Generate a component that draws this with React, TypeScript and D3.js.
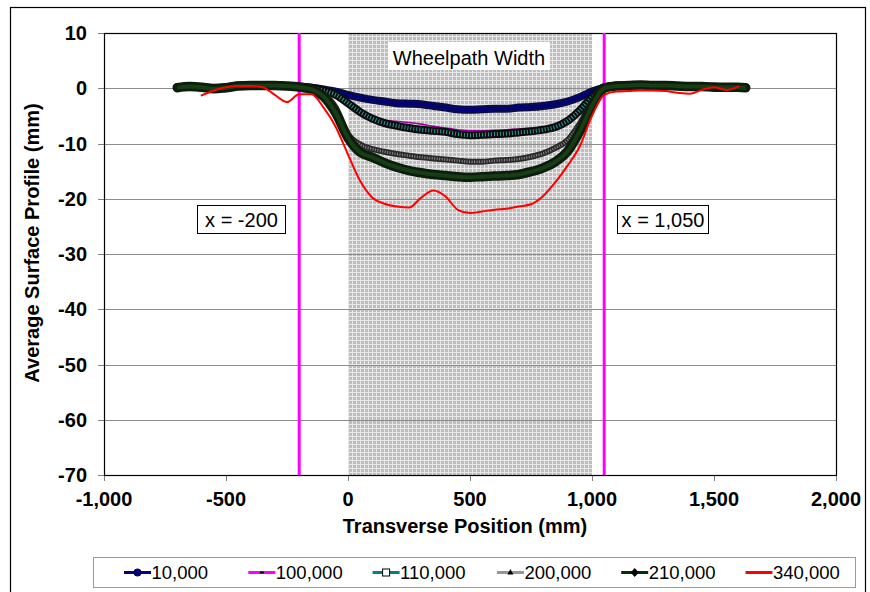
import React from 'react';
import * as d3 from 'd3';

// transverse positions (mm) shared by all series
const positions = [
  -700, -650, -600, -550, -500, -450, -400, -350, -300, -250,
  -200, -150, -100, -50, 0, 50, 100, 150, 200, 250,
  300, 350, 400, 450, 500, 550, 600, 650, 700, 750,
  800, 850, 900, 950, 1000, 1050, 1100, 1150, 1200, 1250,
  1300, 1350, 1400, 1450, 1500, 1550, 1600, 1630,
];

const pass10000 = [
  0.2, 0.3, 0.2, 0.0, 0.1, 0.4, 0.5, 0.4, 0.5, 0.4,
  0.3, 0.1, -0.2, -0.6, -1.2, -1.7, -2.1, -2.4, -2.7, -2.8,
  -2.9, -3.2, -3.5, -3.8, -3.9, -3.8, -3.7, -3.7, -3.5, -3.4,
  -3.2, -2.9, -2.4, -1.6, -0.6, 0.1, 0.4, 0.5, 0.6, 0.5,
  0.5, 0.4, 0.3, 0.3, 0.2, 0.2, 0.2, 0.1,
];
const pass100000 = [
  0.1, 0.3, 0.2, 0.1, 0.2, 0.5, 0.5, 0.4, 0.5, 0.4,
  0.3, 0.1, -0.4, -1.2, -2.6, -4.1, -5.2, -5.8, -6.0, -6.2,
  -6.5, -6.9, -7.2, -7.5, -7.7, -7.7, -7.6, -7.5, -7.4, -7.3,
  -7.1, -6.7, -5.7, -3.9, -1.6, 0.2, 0.5, 0.6, 0.6, 0.5,
  0.5, 0.4, 0.3, 0.3, 0.3, 0.2, 0.2, 0.1,
];
const pass110000 = [
  0.1, 0.3, 0.2, 0.1, 0.2, 0.5, 0.5, 0.4, 0.5, 0.4,
  0.3, 0.1, -0.4, -1.2, -2.7, -4.3, -5.5, -6.3, -6.8, -7.2,
  -7.5, -7.7, -7.9, -8.3, -8.5, -8.4, -8.3, -8.2, -8.0, -7.8,
  -7.5, -7.0, -5.9, -4.0, -1.6, 0.2, 0.5, 0.6, 0.6, 0.5,
  0.5, 0.4, 0.3, 0.3, 0.3, 0.2, 0.2, 0.1,
];
const pass200000 = [
  0.2, 0.3, 0.1, 0.0, 0.1, 0.4, 0.5, 0.4, 0.5, 0.4,
  0.2, -0.1, -1.0, -3.5, -8.3, -10.2, -11.0, -11.5, -11.9, -12.2,
  -12.5, -12.7, -12.9, -13.1, -13.3, -13.3, -13.1, -13.0, -12.8, -12.4,
  -11.8, -10.8, -9.4, -6.4, -2.6, -0.1, 0.4, 0.5, 0.6, 0.5,
  0.5, 0.4, 0.4, 0.3, 0.2, 0.2, 0.2, 0.1,
];
const pass210000 = [
  0.1, 0.3, 0.2, -0.1, 0.1, 0.4, 0.5, 0.5, 0.5, 0.4,
  0.2, -0.2, -1.5, -4.5, -9.0, -11.6, -12.5, -13.5, -14.3, -14.9,
  -15.3, -15.6, -15.8, -16.0, -16.1, -16.0, -15.9, -15.8, -15.6, -15.1,
  -14.4, -13.3, -11.4, -7.8, -3.2, 0.0, 0.4, 0.5, 0.6, 0.5,
  0.5, 0.4, 0.3, 0.3, 0.2, 0.2, 0.2, 0.1,
];
const pass340000 = [
  null, null, -1.3, -0.4, 0.2, 0.4, 0.4, 0.2, -1.2, -2.5,
  -1.1, -1.1, -3.5, -7.0, -12.0, -16.8, -19.8, -20.9, -21.4, -21.6,
  -19.8, -18.5, -19.6, -22.0, -22.6, -22.3, -22.0, -21.8, -21.4, -21.0,
  -19.5, -17.0, -14.0, -10.5, -5.0, -1.2, -0.6, -0.5, -0.4, -0.4,
  -0.5, -0.8, -1.0, -0.3, 0.2, -0.3, 0.3, null,
];

const seriesNames = ['10,000', '100,000', '110,000', '200,000', '210,000', '340,000'];
const xTicks = [-1000, -500, 0, 500, 1000, 1500, 2000];
const yTicks = [10, 0, -10, -20, -30, -40, -50, -60, -70];
const wheelpath = [0, 1000];
const guideLines = [-200, 1050];

type Style = {
  band: string; bandW: number; inner: string; innerW: number; dash?: string;
  legendLine: string; marker: string;
};

const styles: Style[] = [
  { band: '#0b0b45', bandW: 8, inner: '#000080', innerW: 3, legendLine: '#000080', marker: 'circle' },
  { band: '#a000a0', bandW: 1.6, inner: '#a000a0', innerW: 0, legendLine: '#ff00ff', marker: 'dash' },
  { band: '#0c0c0c', bandW: 8, inner: '#2a9a9a', innerW: 4, dash: '1 2', legendLine: '#008080', marker: 'square' },
  { band: '#2a2a2a', bandW: 6, inner: '#8a8a8a', innerW: 2.5, dash: '1 1.5', legendLine: '#969696', marker: 'triangle' },
  { band: '#0c1d0c', bandW: 9.5, inner: '#163d16', innerW: 4, legendLine: '#003300', marker: 'diamond' },
  { band: '#ff0000', bandW: 2, inner: '#ff0000', innerW: 0, legendLine: '#ff0000', marker: 'none' },
];

const seriesValues = [pass10000, pass100000, pass110000, pass200000, pass210000, pass340000];

const font = 'Arial, "Liberation Sans", sans-serif';

const Marker = ({ kind, x, y }: { kind: string; x: number; y: number }) => {
  if (kind === 'circle') return <circle cx={x} cy={y} r={3.6} fill="#000080" stroke="#000040" />;
  if (kind === 'dash') return <rect x={x - 2} y={y - 1} width={4} height={2} fill="#000" />;
  if (kind === 'square') return <rect x={x - 3.5} y={y - 3.5} width={7} height={7} fill="#fff" stroke="#000" strokeWidth={1} />;
  if (kind === 'triangle') return <path d={`M${x},${y - 3.5}L${x + 3},${y + 2}L${x - 3},${y + 2}Z`} fill="#000" />;
  if (kind === 'diamond') return <path d={`M${x},${y - 4.5}L${x + 4},${y}L${x},${y + 4.5}L${x - 4},${y}Z`} fill="#000" />;
  return null;
};

export default function App() {
  const width = 870;
  const height = 592;
  const plot = { left: 104, right: 836, top: 33, bottom: 475 };

  const x = d3.scaleLinear().domain([-1000, 2000]).range([plot.left, plot.right]);
  const y = d3.scaleLinear().domain([-70, 10]).range([plot.bottom, plot.top]);

  const line = d3.line<[number, number | null]>()
    .defined(d => d[1] !== null)
    .x(d => x(d[0]))
    .y(d => y(d[1] as number))
    .curve(d3.curveMonotoneX);

  // excel style: plain hyphen for negatives
  const fmt = (v: number) => d3.format(',')(v).replace('\u2212', '-');

  return (
    <svg width={width} height={height} style={{ position: 'absolute', left: 0, top: 0, background: '#fff' }}
      fontFamily={font}>
      <defs>
        <pattern id="wheelpath" width={4} height={4} patternUnits="userSpaceOnUse">
          <rect width={4} height={4} fill="#bdbdbd" />
          <path d="M0.5,0V4M0,0.5H4" stroke="#e8e8e8" strokeWidth={1} />
        </pattern>
        <clipPath id="plotClip">
          <rect x={plot.left} y={plot.top} width={plot.right - plot.left} height={plot.bottom - plot.top} />
        </clipPath>
      </defs>

      <rect x={10.5} y={7.5} width={855} height={600} fill="none" stroke="#000" strokeWidth={1.2} />

      {/* wheelpath shading */}
      <rect x={x(wheelpath[0])} y={plot.top} width={x(wheelpath[1]) - x(wheelpath[0])}
        height={plot.bottom - plot.top} fill="url(#wheelpath)" />

      {/* grid */}
      {yTicks.map(t => (
        <line key={t} x1={plot.left} x2={plot.right} y1={Math.round(y(t)) + 0.5} y2={Math.round(y(t)) + 0.5}
          stroke="#8c8c8c" strokeWidth={1} />
      ))}

      {/* y axis */}
      {yTicks.map(t => (
        <g key={'yt' + t}>
          <line x1={plot.left - 6} x2={plot.left} y1={Math.round(y(t)) + 0.5} y2={Math.round(y(t)) + 0.5} stroke="#808080" />
          <text x={87} y={y(t) + 7} textAnchor="end" fontSize={20} fontWeight="bold">{fmt(t)}</text>
        </g>
      ))}
      {/* x axis */}
      {xTicks.map(t => (
        <g key={'xt' + t}>
          <line x1={Math.round(x(t)) + 0.5} x2={Math.round(x(t)) + 0.5} y1={plot.bottom} y2={plot.bottom + 6} stroke="#808080" />
          <text x={x(t)} y={506} textAnchor="middle" fontSize={20} fontWeight="bold">{fmt(t)}</text>
        </g>
      ))}

      <rect x={plot.left + 0.5} y={plot.top + 0.5} width={plot.right - plot.left} height={plot.bottom - plot.top}
        fill="none" stroke="#000" strokeWidth={1.2} />

      {/* guide lines */}
      {guideLines.map(g => (
        <line key={g} x1={x(g)} x2={x(g)} y1={plot.top} y2={plot.bottom} stroke="#ff00ff" strokeWidth={3} />
      ))}

      {/* series */}
      <g clipPath="url(#plotClip)">
        {seriesValues.map((vals, i) => {
          const pts = positions.map((p, j) => [p, vals[j]] as [number, number | null]);
          const d = line(pts) || '';
          const s = styles[i];
          return (
            <g key={seriesNames[i]}>
              <path d={d} fill="none" stroke={s.band} strokeWidth={s.bandW} strokeLinejoin="round" strokeLinecap="round" />
              {s.innerW > 0 && (
                <path d={d} fill="none" stroke={s.inner} strokeWidth={s.innerW} strokeDasharray={s.dash}
                  strokeLinejoin="round" />
              )}
            </g>
          );
        })}
      </g>

      {/* annotation boxes */}
      <rect x={388} y={42} width={162} height={28} fill="#fff" />
      <text x={469} y={65} textAnchor="middle" fontSize={20}>Wheelpath Width</text>

      <rect x={197.5} y={205.5} width={88} height={28} fill="#fff" stroke="#000" />
      <text x={241.5} y={227} textAnchor="middle" fontSize={20}>x = -200</text>

      <rect x={617.5} y={205.5} width={91} height={28} fill="#fff" stroke="#000" />
      <text x={663} y={227} textAnchor="middle" fontSize={20}>x = 1,050</text>

      {/* axis titles */}
      <text x={465} y={533} textAnchor="middle" fontSize={20} fontWeight="bold">Transverse Position (mm)</text>
      <text transform="translate(39,243) rotate(-90)" textAnchor="middle" fontSize={20} fontWeight="bold">
        Average Surface Profile (mm)
      </text>

      {/* legend */}
      <rect x={93.5} y={557.5} width={762} height={30} fill="#fff" stroke="#9a9a9a" />
      {seriesNames.map((name, i) => {
        const lx = 124 + i * 124.3;
        const s = styles[i];
        return (
          <g key={'lg' + name}>
            <line x1={lx} x2={lx + 27} y1={572.5} y2={572.5} stroke={s.legendLine} strokeWidth={3} />
            <Marker kind={s.marker} x={lx + 13.5} y={572.5} />
            <text x={lx + 27.5} y={579} fontSize={18.5}>{name}</text>
          </g>
        );
      })}
    </svg>
  );
}
